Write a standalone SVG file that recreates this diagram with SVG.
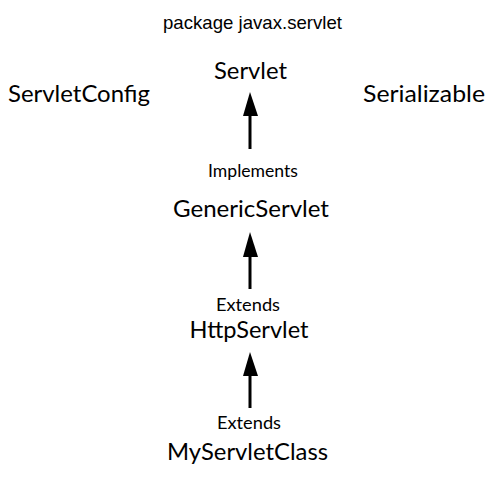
<svg xmlns="http://www.w3.org/2000/svg" width="500" height="488" viewBox="0 0 500 488">
<style>
.n{font-family:Lato,"Open Sans","DejaVu Sans",sans-serif;font-size:24px;fill:#000;text-anchor:middle}
.l{font-family:Lato,"Open Sans","DejaVu Sans",sans-serif;font-size:17px;fill:#000;text-anchor:middle}
.p{font-family:"Liberation Sans",Arial,sans-serif;font-size:18.6px;fill:#000;text-anchor:middle}
.ln{stroke:#000;stroke-width:3;fill:none}
.hd{fill:#000}
</style>
<rect width="500" height="488" fill="#fff"/>
<g id="package"><text class="p" x="252.5" y="29" textLength="179" lengthAdjust="spacingAndGlyphs">package javax.servlet</text></g>
<g id="servlet"><text class="n" x="250.5" y="79" textLength="73" lengthAdjust="spacingAndGlyphs">Servlet</text></g>
<g id="servletconfig"><text class="n" x="79" y="102" textLength="142" lengthAdjust="spacingAndGlyphs">ServletConfig</text></g>
<g id="serializable"><text class="n" x="424" y="102" textLength="122" lengthAdjust="spacingAndGlyphs">Serializable</text></g>
<g id="genericservlet"><text class="n" x="251" y="217" textLength="156" lengthAdjust="spacingAndGlyphs">GenericServlet</text></g>
<g id="httpservlet"><text class="n" x="249" y="338" textLength="119" lengthAdjust="spacingAndGlyphs">HttpServlet</text></g>
<g id="myservletclass"><text class="n" x="247.5" y="460" textLength="161" lengthAdjust="spacingAndGlyphs">MyServletClass</text></g>
<g id="connectors">
<line class="ln" x1="250" y1="149" x2="250" y2="112"/>
<polygon class="hd" points="250,92 243,116 258,116"/>
<text class="l" x="253" y="176.5" textLength="90" lengthAdjust="spacingAndGlyphs">Implements</text>
<line class="ln" x1="250" y1="289" x2="250" y2="252"/>
<polygon class="hd" points="250,232 243,257 258,257"/>
<text class="l" x="248" y="310.5" textLength="64" lengthAdjust="spacingAndGlyphs">Extends</text>
<line class="ln" x1="250" y1="408" x2="250" y2="372"/>
<polygon class="hd" points="250,352 243,376 258,376"/>
<text class="l" x="249" y="429" textLength="64" lengthAdjust="spacingAndGlyphs">Extends</text>
</g>
</svg>
